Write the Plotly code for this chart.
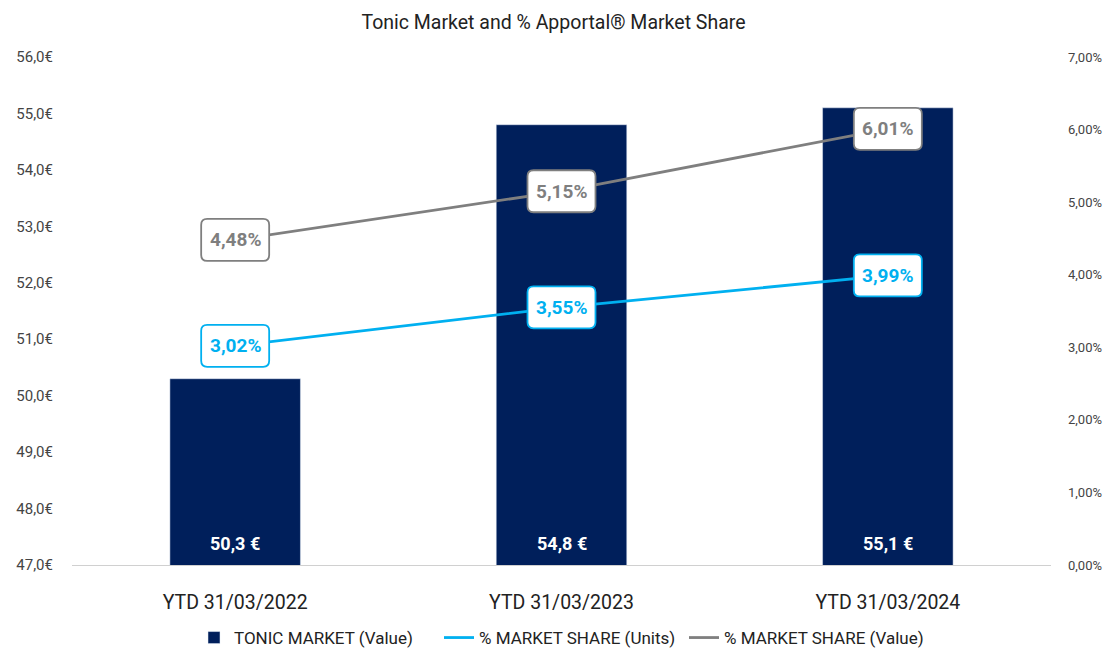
import plotly.graph_objects as go

categories = ["YTD 31/03/2022", "YTD 31/03/2023", "YTD 31/03/2024"]
market_value = [50.3, 54.8, 55.1]
share_units = [3.02, 3.55, 3.99]
share_value = [4.48, 5.15, 6.01]

NAVY = "#001F5B"
BLUE = "#00B0F0"
GRAY = "#7F7F7F"
FONT = "Roboto, Noto Sans, sans-serif"

def fmt(v, d):
    return f"{v:.{d}f}".replace(".", ",")

fig = go.Figure()
fig.add_trace(go.Bar(
    x=categories, y=market_value, name="TONIC MARKET (Value)",
    marker=dict(color=NAVY), width=0.4, yaxis="y"
))
fig.add_trace(go.Scatter(
    x=categories, y=[v / 100 for v in share_units], name="% MARKET SHARE (Units)",
    mode="lines", line=dict(color=BLUE, width=2.8), yaxis="y2"
))
fig.add_trace(go.Scatter(
    x=categories, y=[v / 100 for v in share_value], name="% MARKET SHARE (Value)",
    mode="lines", line=dict(color=GRAY, width=2.8), yaxis="y2"
))

# rounded label boxes (pixel-sized, anchored at data points)
W, H, R = 34, 21, 6
box_path = (f"M{-W+R},{-H} L{W-R},{-H} Q{W},{-H} {W},{-H+R} L{W},{H-R} Q{W},{H} {W-R},{H} "
            f"L{-W+R},{H} Q{-W},{H} {-W},{H-R} L{-W},{-H+R} Q{-W},{-H} {-W+R},{-H} Z")

shapes = []
annotations = []
for series, col in ((share_units, BLUE), (share_value, GRAY)):
    for i, (c, v) in enumerate(zip(categories, series)):
        shapes.append(dict(
            type="path", xref="x", yref="y2", xsizemode="pixel", ysizemode="pixel",
            xanchor=i, yanchor=v / 100, path=box_path,
            fillcolor="white", line=dict(color=col, width=1.8), layer="above"
        ))
        annotations.append(dict(
            x=c, y=v / 100, xref="x", yref="y2", text=fmt(v, 2) + "%",
            showarrow=False, font=dict(color=col, size=19, family=FONT, weight="bold")
        ))

for c, v in zip(categories, market_value):
    annotations.append(dict(
        x=c, y=47, xref="x", yref="y", text=fmt(v, 1) + " €", showarrow=False,
        yanchor="bottom", yshift=9,
        font=dict(color="white", size=18, family=FONT, weight="bold")
    ))

fig.update_layout(
    width=1107, height=648,
    paper_bgcolor="white", plot_bgcolor="white",
    separators=",.",
    font=dict(family=FONT, color="#222222"),
    title=dict(text="Tonic Market and % Apportal® Market Share", x=0.5, xanchor="center",
               y=1 - 22 / 648, yanchor="middle", font=dict(size=19.5, color="#222222", family=FONT)),
    margin=dict(l=72, r=56, t=57, b=83, autoexpand=False),
    xaxis=dict(showgrid=False, showline=True, linecolor="#D0D0D0", linewidth=1,
               tickfont=dict(size=19.5, color="#222222"), ticks="", ticklabelstandoff=20),
    yaxis=dict(range=[47, 56], dtick=1, tickformat=".1f", ticksuffix="€",
               showgrid=False, zeroline=False, showline=False,
               tickfont=dict(size=15, color="#444444"), ticklabelstandoff=18),
    yaxis2=dict(range=[0, 0.07], dtick=0.01, tickformat=".2%", overlaying="y", side="right",
                showgrid=False, zeroline=False, showline=False,
                tickfont=dict(size=13, color="#444444"), ticklabelstandoff=16),
    legend=dict(orientation="h", x=0.5, xanchor="center", y=-73 / 508, yanchor="middle",
                font=dict(size=17, color="#222222"), traceorder="normal",
                entrywidth=200),
    shapes=shapes,
    annotations=annotations,
)

fig.write_html("out.html", config={"displayModeBar": False},
               post_script="document.body.style.margin='0';document.body.style.overflow='hidden';")
